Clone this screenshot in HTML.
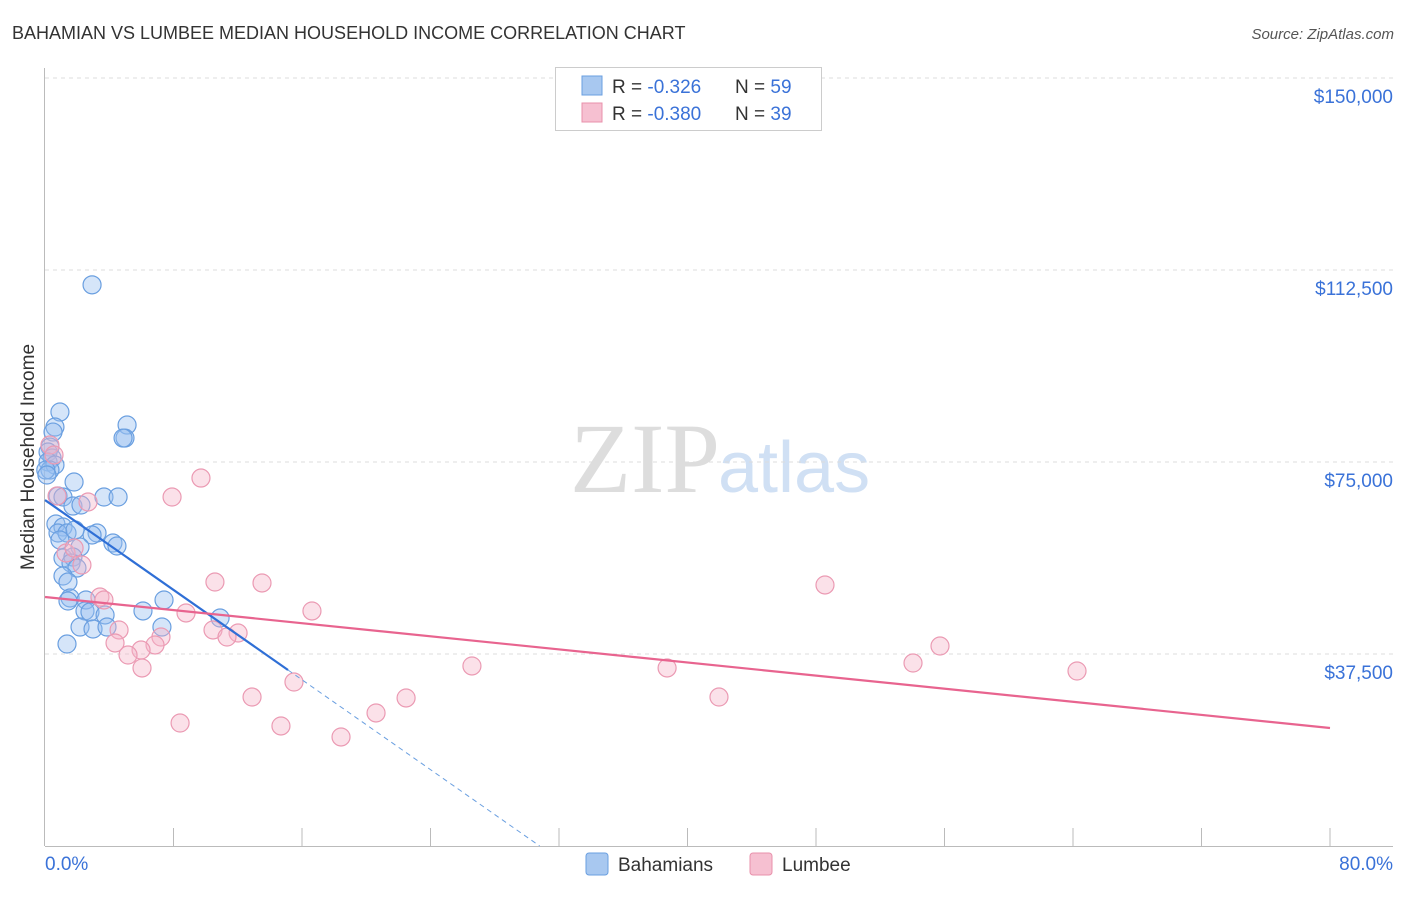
<!DOCTYPE html>
<html><head><meta charset="utf-8"><style>
body{margin:0;background:#fff;font-family:"Liberation Sans",sans-serif}
</style></head><body>
<svg id="c" width="1406" height="892" xmlns="http://www.w3.org/2000/svg" font-family="Liberation Sans, sans-serif">
<text x="12" y="39" font-size="18" fill="#333">BAHAMIAN VS LUMBEE MEDIAN HOUSEHOLD INCOME CORRELATION CHART</text>
<text x="1394" y="39" font-size="15" fill="#555" font-style="italic" text-anchor="end">Source: ZipAtlas.com</text>
<text x="34" y="457" font-size="19" fill="#333" transform="rotate(-90 34 457)" text-anchor="middle">Median Household Income</text>
<text x="720" y="492" font-size="100" fill="#ddd" font-family="Liberation Serif, serif" text-anchor="end">ZIP</text>
<text x="718" y="492" font-size="72" fill="#d0e0f4">atlas</text>
<g id="grid"></g><g id="axes"></g><g id="pts"></g><g id="trend"></g>
<g>
<rect x="555.5" y="67.5" width="266" height="63" fill="#fff" stroke="#ccc"/>
<rect x="582" y="76" width="20" height="19" fill="#a8c8f0" stroke="#6a9fe0"/>
<rect x="582" y="103" width="20" height="19" fill="#f6c0d1" stroke="#e890ab"/>
<text x="612" y="93" font-size="19" fill="#333">R = <tspan fill="#3a72d8">-0.326</tspan><tspan x="735">N = </tspan><tspan fill="#3a72d8">59</tspan></text>
<text x="612" y="120" font-size="19" fill="#333">R = <tspan fill="#3a72d8">-0.380</tspan><tspan x="735">N = </tspan><tspan fill="#3a72d8">39</tspan></text>
</g>
<g>
<rect x="586" y="853" width="22" height="22" rx="3" fill="#a8c8f0" stroke="#6a9fe0"/>
<text x="618" y="871" font-size="19" fill="#333">Bahamians</text>
<rect x="750" y="853" width="22" height="22" rx="3" fill="#f6c0d1" stroke="#e890ab"/>
<text x="782" y="871" font-size="19" fill="#333">Lumbee</text>
</g>
<text x="45" y="870" font-size="19" fill="#3a72d8">0.0%</text>
<text x="1393" y="870" font-size="19" fill="#3a72d8" text-anchor="end">80.0%</text>
</svg>
<script>
const yTicks=[150000,112500,75000,37500];
const yTickLabels=["$150,000","$112,500","$75,000","$37,500"];
const bahX=[2.93,0.93,5.11,0.62,4.98,4.86,0.50,0.31,0.19,0.44,0.19,0.62,0.31,1.81,0.81,3.67,4.55,1.12,1.74,2.24,0.68,1.12,0.81,1.37,3.24,2.93,4.23,4.48,2.18,1.12,1.74,1.62,1.99,1.12,1.43,1.56,1.43,2.55,7.41,2.49,2.80,6.10,3.74,10.90,2.18,2.99,3.86,7.28,1.37,0.05,0.12,0.93,1.87];
const bahY=[109600,84760,82220,81830,79680,79680,80850,77920,76950,75780,75000,74410,73430,71090,68360,68160,68160,68160,66400,66600,62890,62300,61130,61130,61130,60740,59180,58590,58400,56250,56440,55270,54290,52730,51560,48440,47850,48050,48050,45900,45700,45900,45120,44530,42770,42380,42770,42770,39450,73430,72460,59770,61720];
const lumX=[0.31,0.56,9.71,0.75,2.68,7.91,1.31,2.30,1.81,10.58,13.51,48.56,3.42,3.67,8.78,16.62,4.61,10.46,12.02,11.33,7.22,6.85,4.36,5.98,5.17,26.58,38.73,54.04,55.72,64.25,6.04,15.50,12.89,22.48,41.96,20.61,8.41,14.69,18.43];
const lumY=[78320,76370,71870,68360,67190,68160,57230,54880,58200,51560,51370,50980,48630,48050,45510,45900,42190,42190,41600,40820,40820,39260,39650,38280,37300,35160,34770,35740,39060,34180,34770,32030,29100,28910,29100,25980,24020,23440,21290];
const bahTrend=[67570,-2194];
const lumTrend=[48630,23050];
const NS="http://www.w3.org/2000/svg";
const X=v=>45+v/80*1285, Y=v=>846-v/37500*192;
function mk(t,a,p){const e=document.createElementNS(NS,t);for(const k in a)e.setAttribute(k,a[k]);p.appendChild(e);return e;}
const grid=document.getElementById('grid'),axes=document.getElementById('axes'),pts=document.getElementById('pts'),tr=document.getElementById('trend');
yTicks.forEach((t,i)=>{
 const l=mk('line',{x1:45,x2:1393,y1:Y(t),y2:Y(t),stroke:'#ddd','stroke-dasharray':'4 4'},grid);
 
 
 const tx=mk('text',{x:1393,y:Y(t)+25,'font-size':19,fill:'#3a72d8','text-anchor':'end'},axes);
 tx.textContent=yTickLabels[i];
 
 
});
const ax=mk('line',{x1:44.5,x2:44.5,y1:68,y2:846,stroke:'#bbb'},axes);


const bx=mk('line',{x1:45,x2:1393,y1:846.5,y2:846.5,stroke:'#bbb'},axes);


for(let i=1;i<=10;i++){const t=mk('line',{x1:X(i*8),x2:X(i*8),y1:828,y2:846,stroke:'#bbb'},axes);
 
 }
bahX.forEach((x,i)=>{const c=mk('circle',{cx:X(x),cy:Y(bahY[i]),r:9,fill:'rgba(150,190,240,0.4)',stroke:'#6a9fe0','stroke-width':1.2},pts);
 
 });
lumX.forEach((x,i)=>{const c=mk('circle',{cx:X(x),cy:Y(lumY[i]),r:9,fill:'rgba(244,180,200,0.4)',stroke:'#eb9ab3','stroke-width':1.2},pts);
 
 });
const bEnd=15.13, bZero=-bahTrend[0]/bahTrend[1];
const t1=mk('line',{x1:X(0),y1:Y(bahTrend[0]),x2:X(bEnd),y2:Y(bahTrend[0]+bahTrend[1]*bEnd),stroke:'#2f6fd6','stroke-width':2.2},tr);


const t2=mk('line',{x1:X(bEnd),y1:Y(bahTrend[0]+bahTrend[1]*bEnd),x2:X(bZero),y2:Y(0),stroke:'#6a9fe0','stroke-width':1,'stroke-dasharray':'5 4'},tr);


const t3=mk('line',{x1:X(0),y1:Y(lumTrend[0]),x2:X(80),y2:Y(lumTrend[1]),stroke:'#e8648f','stroke-width':2.2},tr);


</script>
</body></html>
